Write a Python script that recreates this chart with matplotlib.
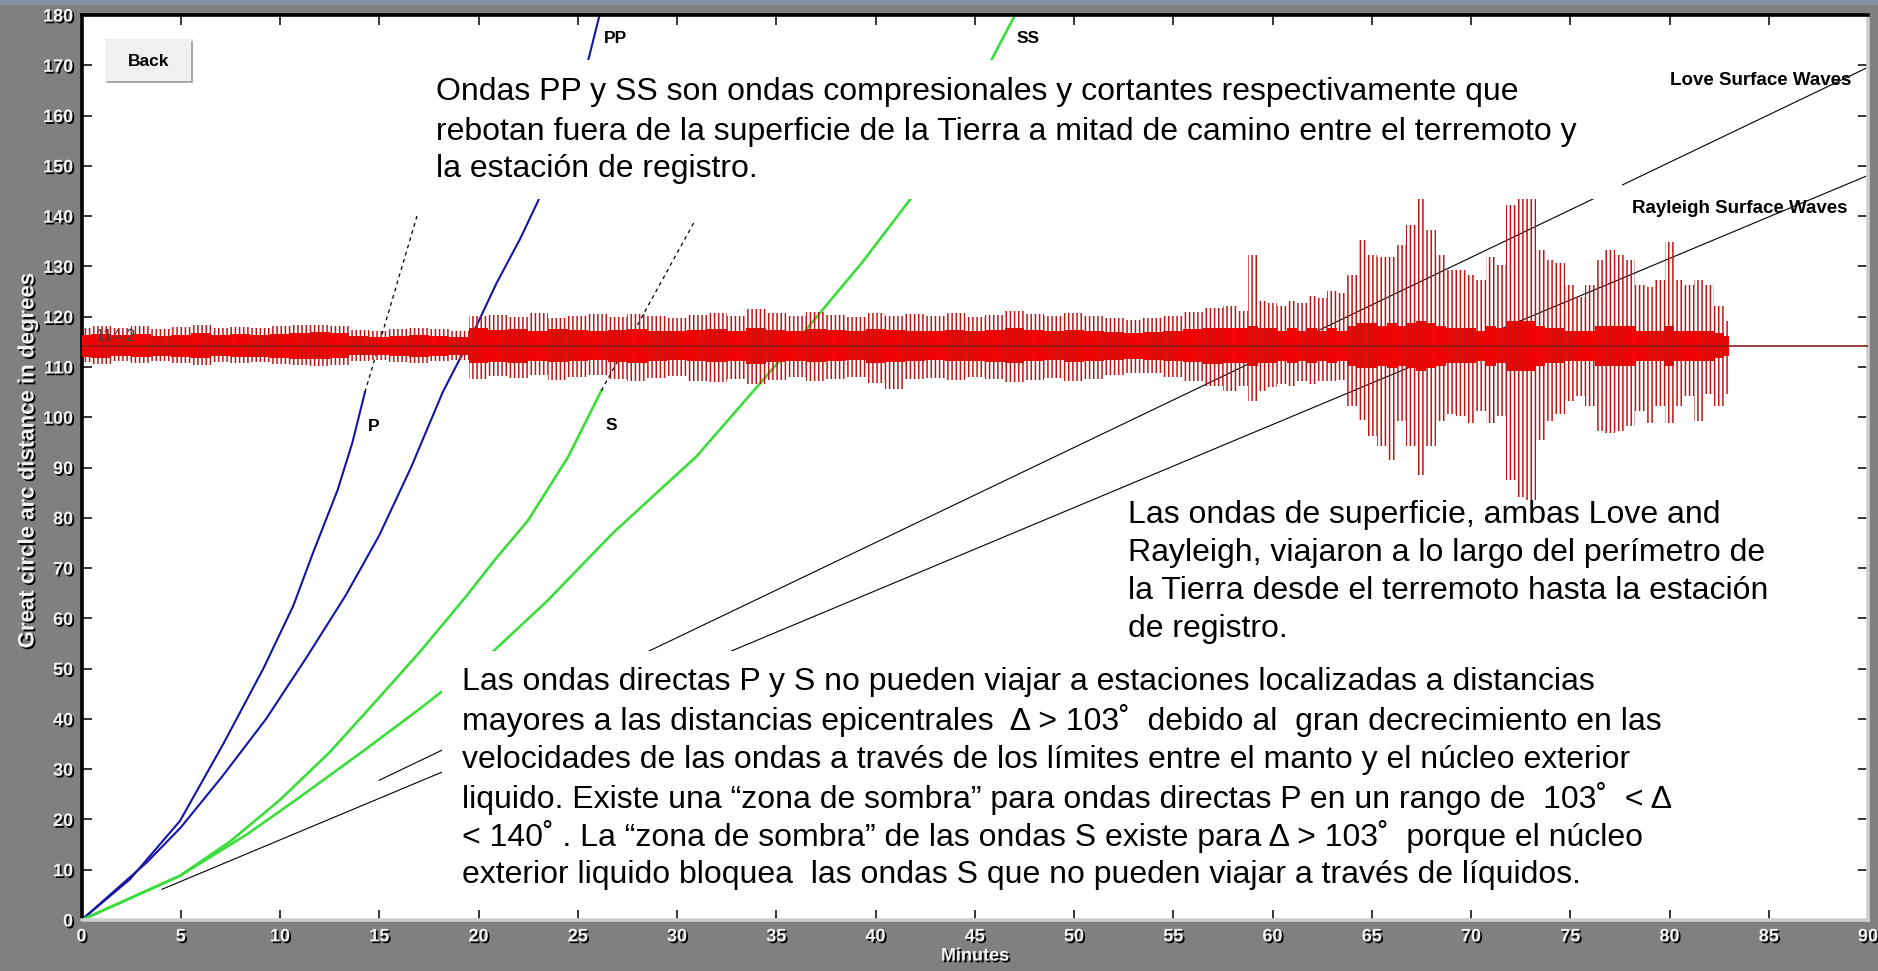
import matplotlib
matplotlib.use("Agg")
import matplotlib.pyplot as plt
import matplotlib.font_manager as fm
import matplotlib.patheffects as pe
from matplotlib.patches import Rectangle
import numpy as np

# ---------------- data ----------------
x_ticks = list(range(0, 91, 5))
y_ticks = list(range(0, 181, 10))

P_t = [0, 2.44, 4.96, 7.14, 9.16, 10.67, 11.67, 12.9, 13.65, 14.28]
P_d = [0, 8.1, 19.7, 35.0, 50.0, 62.5, 73.1, 85.5, 95.0, 105.0]
P_ext_t = [14.28, 16.9]
P_ext_d = [105.0, 140.0]

PP_t = [0, 3.3, 5.0, 7.1, 9.3, 11.3, 13.3, 15.0, 16.6, 18.2, 19.7, 20.9, 22.1, 23.0, 24.2, 25.4, 26.1]
PP_d = [0, 11.5, 18.4, 28.6, 40.0, 52.0, 64.5, 76.5, 90.0, 105.0, 116.5, 126.6, 135.5, 143.0, 155.0, 169.0, 180.0]

S_t = [0, 2.5, 4.96, 7.48, 10.0, 12.51, 15.03, 17.04, 19.3, 20.9, 22.5, 24.5, 26.19]
S_d = [0, 4.4, 8.8, 15.6, 23.9, 33.4, 44.4, 53.3, 64.0, 72.0, 79.5, 92.0, 105.3]
S_ext_t = [26.19, 30.89]
S_ext_d = [105.3, 139.0]

SS_t = [0, 4.96, 8.32, 10.84, 14.19, 17.04, 20.73, 23.42, 26.78, 30.98, 34.33, 36.2, 39.37, 41.8, 44.0, 45.83, 47.03]
SS_d = [0, 8.8, 17.0, 24.0, 33.6, 42.0, 53.4, 63.3, 77.0, 92.2, 107.4, 116.0, 131.0, 143.6, 157.0, 171.0, 180.0]

love_t = [15.0, 90.0]
love_d = [27.8, 169.6]
rayleigh_t = [4.05, 90.0]
rayleigh_d = [6.1, 148.1]

station_dist = 114.2
# sample times: whole minutes up to 57, then half minutes from 58 to 83
trace_t = list(range(0, 58)) + [58 + 0.5 * i for i in range(51)]
trace_up = [3.5, 4.0, 3.6, 3.9, 3.4, 3.7, 4.1, 3.5, 3.8, 3.6, 3.9, 4.2,
            4.2, 4.0,
            3.2, 3.0, 3.4, 3.6, 3.3, 3.0,
            6.0,
            6.2, 5.8, 6.5, 5.5, 6.0, 6.3, 5.7, 6.4, 6.0, 5.5, 6.2, 6.6, 6.0, 7.3,
            6.5, 6.0, 6.8, 6.2, 5.8, 6.6, 6.0, 6.3,
            6.0, 6.5, 5.8, 6.2, 7.0, 6.4, 5.9, 6.5, 6.0, 5.6, 5.2,
            5.5, 6.0, 6.8, 7.5,
            8, 7, 18, 9, 8.5, 8, 9, 8.5, 10, 9.5, 11, 10.5, 14, 21, 18, 17.7, 17.7, 20, 24, 29.3,
            23, 18, 15, 15, 14, 13, 17.7, 16, 28, 30, 30, 19, 17, 16.4, 12, 9.7, 12, 17, 19, 18,
            17, 12, 11.7, 13, 20.7, 13, 12, 13, 12, 8, 5]
trace_low = [3.3, 3.6, 3.1, 3.5, 3.0, 3.4, 3.8, 3.2, 3.5, 3.3, 3.6, 3.9,
             4.0, 3.8,
             3.0, 2.8, 3.2, 3.4, 3.1, 2.9,
             6.5,
             6.0, 6.3, 5.8, 6.8, 6.2, 5.9, 6.6, 7.0, 6.4, 6.1, 6.9, 7.2, 6.5, 7.5,
             6.8, 6.2, 7.0, 6.5, 6.2, 7.4, 8.5, 6.6,
             6.4, 6.8, 6.2, 6.6, 7.2, 6.8, 6.3, 6.9, 6.5, 5.9, 5.5,
             5.5, 6.2, 7.0, 8.0,
             9, 8, 11, 9, 8.2, 7.5, 8, 7, 7.5, 7, 7, 6.8, 12, 14.8, 18, 20, 22.7, 15, 20, 25.7,
             20, 15, 13.5, 14, 15.4, 13, 15.4, 14, 26.7, 30, 30.7, 18.8, 15, 13.5, 11, 10, 12, 17,
             17.4, 17, 16, 13, 15.4, 12, 15.4, 12, 10, 15, 9.5, 12, 9.5]
trace_core = [2.2, 2.4, 2.1, 2.3, 2.0, 2.2, 2.5, 2.1, 2.3, 2.2, 2.4, 2.6, 2.7, 2.5, 1.9, 1.8, 2.0, 2.2, 2.0, 1.8,
              3.5, 3.2, 3.4, 3.0, 3.3, 3.1, 2.9, 3.2, 3.4, 3.0, 2.9, 3.1, 3.3, 3.0, 3.6, 3.2, 3.0, 3.3, 3.1, 2.9,
              3.4, 3.2, 3.0, 2.9, 3.1, 3.0, 3.2, 3.5, 3.1, 2.9, 3.2, 3.0, 2.8, 2.6, 2.8, 3.0, 3.3, 3.6,
              3.5, 3.5, 4, 3.5, 3.5, 3, 3.5, 3, 3.5, 3, 3.5, 3, 4, 4.5, 4.5, 4, 4.5, 4, 4.5, 5,
              4.5, 4, 3.5, 3.5, 3.5, 3, 4, 3.5, 5, 5, 5, 4, 3.5, 3.5, 3, 3, 3, 4, 4, 4,
              4, 3, 3, 3, 4, 3, 3, 3, 3, 2.5, 2]

text_top = ["Ondas PP y SS son ondas compresionales y cortantes respectivamente que",
            "rebotan fuera de la superficie de la Tierra a mitad de camino entre el terremoto y",
            "la estación de registro."]
text_bottom = ["Las ondas directas P y S no pueden viajar a estaciones localizadas a distancias",
               "mayores a las distancias epicentrales  Δ > 103˚  debido al  gran decrecimiento en las",
               "velocidades de las ondas a través de los límites entre el manto y el núcleo exterior",
               "liquido. Existe una “zona de sombra” para ondas directas P en un rango de  103˚  < Δ",
               "< 140˚ . La “zona de sombra” de las ondas S existe para Δ > 103˚  porque el núcleo",
               "exterior liquido bloquea  las ondas S que no pueden viajar a través de líquidos."]
text_right = ["Las ondas de superficie, ambas Love and",
              "Rayleigh, viajaron a lo largo del perímetro de",
              "la Tierra desde el terremoto hasta la estación",
              "de registro."]

# ---------------- fonts ----------------
BODY = ['Liberation Sans', 'DejaVu Sans']
body_size = 23
plt.rcParams['font.family'] = ['Liberation Sans', 'DejaVu Sans']
plt.rcParams['hatch.linewidth'] = 1.1
plt.rcParams['hatch.color'] = '#c01515'

# ---------------- figure ----------------
W, H = 1878, 971
fig = plt.figure(figsize=(W / 100, H / 100), dpi=100)
fig.patch.set_facecolor('#808080')
fig.add_artist(Rectangle((0, 1 - 5 / H), 1, 5 / H, transform=fig.transFigure,
                         facecolor='#8591a2', edgecolor='none'))

L, R, T, B = 81.5, 1868, 15, 920
ax = fig.add_axes([L / W, 1 - B / H, (R - L) / W, (B - T) / H])
ax.set_facecolor('white')
ax.set_xlim(0, 90)
ax.set_ylim(0, 180)

for side in ['left', 'top']:
    ax.spines[side].set_color('black')
    ax.spines[side].set_linewidth(2.6)
for side in ['bottom', 'right']:
    ax.spines[side].set_color('#cfcfcf')
    ax.spines[side].set_linewidth(2.6)

shadow = [pe.withSimplePatchShadow(offset=(1.3, -1.3), shadow_rgbFace='black', alpha=1.0)]
ax.set_xticks(x_ticks)
ax.set_yticks(y_ticks)
ax.set_xticklabels([str(v) for v in x_ticks])
ax.set_yticklabels([str(v) for v in y_ticks])
ax.tick_params(direction='in', length=7, width=1.1, color='black',
               top=True, right=True, labelcolor='#f2f2f2', labelsize=13, pad=6)
for lab in ax.get_xticklabels() + ax.get_yticklabels():
    lab.set_fontweight('bold')
    lab.set_path_effects(shadow)

fig.text(28 / W, 1 - 461 / H, 'Great circle arc distance in degrees', rotation=90,
         ha='center', va='center', color='#f2f2f2', fontsize=16, fontweight='bold',
         path_effects=shadow)
fig.text(975 / W, 1 - 956 / H, 'Minutes', ha='center', va='center', color='#f2f2f2',
         fontsize=13, fontweight='bold', path_effects=shadow)

# ---------------- curves ----------------
blue = '#1414a6'
green = '#3ade3a'
ax.plot(P_t, P_d, color=blue, lw=1.5, zorder=2)
ax.plot(PP_t, PP_d, color=blue, lw=1.5, zorder=2)
ax.plot(S_t, S_d, color=green, lw=1.9, zorder=2)
ax.plot(SS_t, SS_d, color=green, lw=1.9, zorder=2)
ax.plot(P_ext_t, P_ext_d, color='black', lw=0.9, ls=(0, (3, 3)), zorder=2)
ax.plot(S_ext_t, S_ext_d, color='black', lw=0.9, ls=(0, (3, 3)), zorder=2)
ax.plot(love_t, love_d, color='black', lw=0.8, zorder=2)
ax.plot(rayleigh_t, rayleigh_d, color='black', lw=0.8, zorder=2)

# ---------------- seismogram ----------------
tm = np.array(trace_t, dtype=float)
up = station_dist + np.array(trace_up)
lo = station_dist - np.array(trace_low)
c = np.array(trace_core)
ax.fill_between(tm, station_dist - c, station_dist + c, step='mid', facecolor='#ff0000',
                edgecolor='none', zorder=3.0)
ax.text(0.7, 116.0, f'{station_dist}', fontsize=12, color='#3a3a3a', zorder=3.05,
        ha='left', va='center')
ax.fill_between(tm, lo, up, step='mid', facecolor='none', edgecolor='#c01515',
                hatch='||||', linewidth=0, zorder=3.1)
ax.plot([0, 90], [station_dist, station_dist], color='#8b1a1a', lw=1.2, zorder=3.2)

# ---------------- labels on curves ----------------
lab_kw = dict(fontweight='bold', color='black', zorder=4)
ax.text(14.7, 98.1, 'P', ha='center', va='center', fontsize=12.5, **lab_kw)
ax.text(26.7, 98.4, 'S', ha='center', va='center', fontsize=12.5, **lab_kw)
ax.text(26.3, 175.4, 'PP', ha='left', va='center', fontsize=12.5, **lab_kw)
ax.text(47.1, 175.3, 'SS', ha='left', va='center', fontsize=12.5, **lab_kw)
ax.text(80.0, 167.0, 'Love Surface Waves', ha='left', va='center', fontsize=13.5, **lab_kw)
ax.text(78.1, 141.6, 'Rayleigh Surface Waves', ha='left', va='center', fontsize=13.5, **lab_kw)

# ---------------- white text boxes ----------------
for (x0, y0, x1, y1) in [(17.3, 143.5, 77.6, 171.0),
                         (18.15, 3.0, 81.5, 53.5),
                         (52.5, 53.5, 85.5, 83.6)]:
    ax.add_patch(Rectangle((x0, y0), x1 - x0, y1 - y0, facecolor='white',
                           edgecolor='none', zorder=5))

for line, y in zip(text_top, [164.7, 156.7, 149.3]):
    ax.text(17.85, y, line, fontsize=body_size, family=BODY, ha='left', va='center', zorder=6)
for line, y in zip(text_bottom, [47.3, 39.6, 31.9, 24.2, 16.6, 8.9]):
    ax.text(19.16, y, line, fontsize=body_size, family=BODY, ha='left', va='center', zorder=6)
for line, y in zip(text_right, [80.5, 73.0, 65.4, 57.9]):
    ax.text(52.74, y, line, fontsize=body_size, family=BODY, ha='left', va='center', zorder=6)

# ---------------- Back button ----------------
bx0, by0, bx1, by1 = 0.0137, 0.926, 0.0619, 0.972
ax.add_patch(Rectangle((bx0, by0), bx1 - bx0, by1 - by0, transform=ax.transAxes,
                       facecolor='#f0f0f0', edgecolor='#9a9a9a', lw=1.2, zorder=7))
ax.plot([bx0, bx0, bx1], [by0, by1, by1], transform=ax.transAxes, color='white', lw=1.2, zorder=7.5)
ax.text((bx0 + bx1) / 2, (by0 + by1) / 2, 'Back', transform=ax.transAxes, ha='center',
        va='center', fontsize=12.5, fontweight='bold', color='black', zorder=8)

fig.savefig('out.png', dpi=100, facecolor=fig.get_facecolor())
